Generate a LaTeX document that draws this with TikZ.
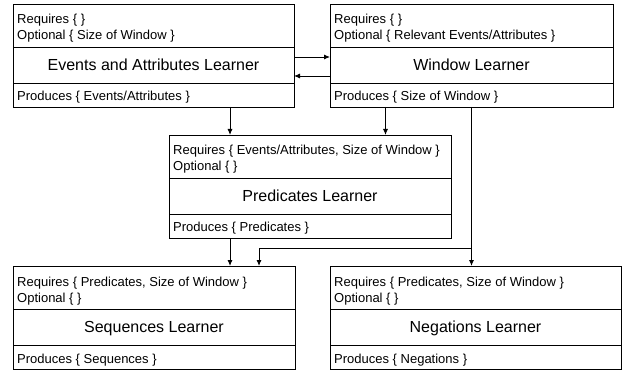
\documentclass[tikz,border=0pt]{standalone}
\usepackage{fontspec}
\setmainfont{Liberation Sans}
\usetikzlibrary{positioning}
\usetikzlibrary{arrows.meta}

\tikzset{
  part/.style={draw, line width=0.9pt, outer sep=0pt, inner sep=0pt, anchor=north west},
  title/.style={font=\fontsize{16}{19}\selectfont, text height=11.5pt, text depth=0pt},
  small/.style={font=\fontsize{13}{16}\selectfont, anchor=base west, inner sep=0pt},
  arr/.style={line width=0.9pt, -{Latex[length=6pt,width=5pt]}}
}

% one learner: name, x, y, width, requires, optional, title, produces
\newcommand{\learnerbox}[8]{%
  \node[part, minimum width=#4, minimum height=43pt] (#1req) at (#2,#3) {};
  \node[part, minimum width=#4, minimum height=36pt, below=0pt of #1req, title] (#1name) {#7};
  \node[part, minimum width=#4, minimum height=24pt, below=0pt of #1name] (#1prod) {};
  \node[small] at ([shift={(4,20)}]#1req.north west) {Requires \{ #5\unskip\ \}};
  \node[small] at ([shift={(4,36)}]#1req.north west) {Optional \{ #6\unskip\ \}};
  \node[small] at ([shift={(4,18)}]#1prod.north west) {Produces \{ #8\unskip\ \}};
}

\begin{document}
\begin{tikzpicture}[x=1pt, y=-1pt]
        \useasboundingbox (0,0) rectangle (623,371);
        %
        \learnerbox{evt}{13}{4}{281pt}{}{Size of Window}{Events and Attributes Learner}{Events/Attributes}
        \learnerbox{win}{330}{4}{283pt}{}{Relevant Events/Attributes}{Window Learner}{Size of Window}
        \learnerbox{pred}{169}{135}{282pt}{Events/Attributes, Size of Window}{}{Predicates Learner}{Predicates}
        \learnerbox{seq}{13}{266}{282pt}{Predicates, Size of Window}{}{Sequences Learner}{Sequences}
        \learnerbox{neg}{330}{266}{291pt}{Predicates, Size of Window}{}{Negations Learner}{Negations}
        %
        \draw [arr] ([yshift=8pt]evtname.east) -- ([yshift=8pt]winname.west);
        \draw [arr] ([yshift=-11pt]winname.west) -- ([yshift=-11pt]evtname.east);
        %
        \draw [arr] ([xshift=76.5pt]evtprod.south) -- ([xshift=76.5pt]evtprod.south |- predreq.north);
        \draw [arr] ([xshift=-86pt]winprod.south) -- ([xshift=-86pt]winprod.south |- predreq.north);
        \draw [arr] ([xshift=-80pt]predprod.south) -- ([xshift=-80pt]predprod.south |- seqreq.north);
        %
        \coordinate (fork) at ([yshift=-10pt]predprod.south -| winprod.south);
        \draw [arr] (winprod.south) -- (winprod.south |- negreq.north);
        \draw [arr] (fork) -| ([xshift=105pt]seqreq.north);
      \end{tikzpicture}
\end{document}
